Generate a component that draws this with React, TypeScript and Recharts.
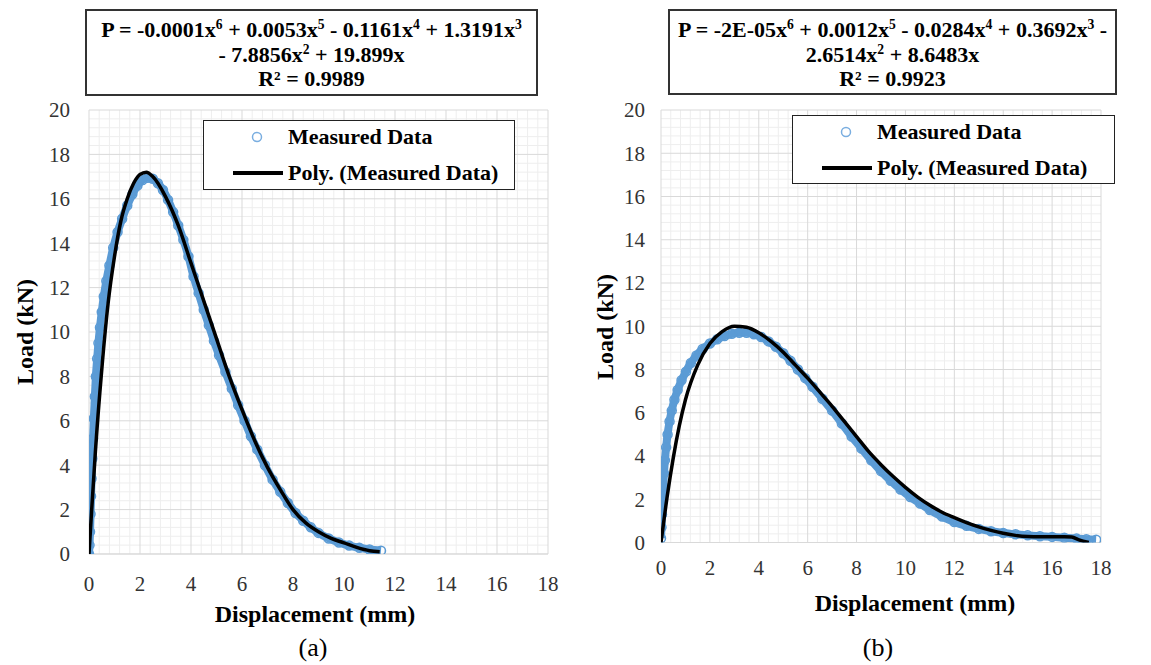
import React from 'react';
import { ScatterChart, Scatter, XAxis, YAxis, CartesianGrid } from 'recharts';

// ---------- data ----------
const xTicks = [0, 2, 4, 6, 8, 10, 12, 14, 16, 18];
const yTicks = [0, 2, 4, 6, 8, 10, 12, 14, 16, 18, 20];

// (a) measured
const measuredAX = [0, 0.02, 0.04, 0.06, 0.08, 0.1, 0.13, 0.16, 0.19, 0.23, 0.27, 0.32, 0.37, 0.43, 0.5, 0.58, 0.68, 0.8, 0.95, 1.12, 1.3, 1.5, 1.7, 1.9, 2.1, 2.3, 2.5, 2.7, 2.9, 3.1, 3.3, 3.5, 3.7, 3.9, 4.1, 4.3, 4.5, 4.7, 4.9, 5.1, 5.35, 5.6, 5.85, 6.1, 6.35, 6.6, 6.9, 7.2, 7.5, 7.8, 8.1, 8.4, 8.7, 9.0, 9.4, 9.8, 10.2, 10.6, 11.0, 11.45];
const measuredAY = [0, 0.4, 1.0, 1.8, 2.6, 3.4, 4.3, 5.2, 6.1, 7.1, 8.0, 8.8, 9.5, 10.2, 10.9, 11.6, 12.3, 13.0, 13.8, 14.5, 15.1, 15.7, 16.2, 16.6, 16.85, 16.95, 16.9, 16.7, 16.4, 15.95, 15.4, 14.8, 14.15, 13.4, 12.5, 11.75, 11.0, 10.3, 9.6, 8.95, 8.2, 7.45, 6.7, 6.0, 5.3, 4.7, 4.0, 3.35, 2.8, 2.3, 1.85, 1.5, 1.2, 0.95, 0.7, 0.52, 0.38, 0.28, 0.2, 0.15];
// (a) polynomial trendline
const polyAX = [0, 0.1, 0.25, 0.5, 0.75, 1.0, 1.25, 1.5, 1.75, 2.0, 2.25, 2.5, 3.0, 3.5, 4.0, 4.5, 5.0, 5.5, 6.0, 6.5, 7.0, 7.5, 8.0, 8.5, 9.0, 9.5, 10.0, 10.5, 11.0, 11.4];
const polyAY = [0, 1.9, 4.6, 8.3, 11.3, 13.4, 15.0, 16.0, 16.7, 17.1, 17.2, 17.0, 16.1, 14.8, 13.1, 11.4, 9.7, 8.0, 6.5, 5.1, 3.9, 2.9, 2.0, 1.4, 1.0, 0.7, 0.5, 0.3, 0.15, 0.1];

// (b) measured
const measuredBX = [0, 0.02, 0.04, 0.06, 0.09, 0.12, 0.16, 0.21, 0.27, 0.35, 0.44, 0.55, 0.68, 0.84, 1.02, 1.22, 1.45, 1.7, 2.0, 2.3, 2.6, 2.9, 3.2, 3.5, 3.8, 4.1, 4.4, 4.7, 5.0, 5.3, 5.6, 5.9, 6.2, 6.6, 7.0, 7.4, 7.8, 8.2, 8.6, 9.0, 9.4, 9.8, 10.2, 10.6, 11.0, 11.5, 12.0, 12.5, 13.0, 13.5, 14.0, 14.5, 15.0, 15.5, 16.0, 16.5, 17.0, 17.4, 17.8];
const measuredBY = [0.2, 0.7, 1.3, 1.9, 2.6, 3.2, 3.8, 4.4, 5.0, 5.6, 6.1, 6.6, 7.05, 7.5, 7.9, 8.3, 8.65, 8.95, 9.2, 9.4, 9.55, 9.65, 9.7, 9.7, 9.63, 9.5, 9.3, 9.05, 8.75, 8.4, 8.0, 7.6, 7.2, 6.65, 6.1, 5.5, 4.9, 4.35, 3.8, 3.3, 2.85, 2.45, 2.1, 1.8, 1.5, 1.2, 0.95, 0.77, 0.63, 0.52, 0.44, 0.38, 0.33, 0.29, 0.26, 0.22, 0.18, 0.15, 0.13];
// (b) polynomial trendline
const polyBX = [0, 0.25, 0.5, 0.75, 1.0, 1.5, 2.0, 2.5, 3.0, 3.5, 4.0, 4.5, 5.0, 5.5, 6.0, 6.5, 7.0, 7.5, 8.0, 8.5, 9.0, 9.5, 10.0, 10.5, 11.0, 11.5, 12.0, 12.5, 13.0, 13.5, 14.0, 14.5, 15.0, 15.5, 16.0, 16.5, 16.8, 17.1, 17.5];
const polyBY = [0, 2.1, 3.9, 5.4, 6.6, 8.2, 9.2, 9.75, 10.0, 9.95, 9.7, 9.3, 8.8, 8.2, 7.6, 6.95, 6.3, 5.6, 4.9, 4.2, 3.6, 3.05, 2.55, 2.1, 1.72, 1.4, 1.15, 0.92, 0.72, 0.56, 0.43, 0.33, 0.28, 0.27, 0.27, 0.27, 0.25, 0.12, 0.0];

const eqA = ['-0.0001', '0.0053', '0.1161', '1.3191', '7.8856', '19.899', '0.9989'];
const eqB = ['-2E-05', '0.0012', '0.0284', '0.3692', '2.6514', '8.6483', '0.9923'];

const seriesNames = ['Measured Data', 'Poly. (Measured Data)'];
const axisTitles = { x: 'Displacement (mm)', y: 'Load (kN)' };
const captions = ['(a)', '(b)'];

// ---------- helpers ----------
const zip = (xs: number[], ys: number[]) => xs.map((x, i) => ({ x, y: ys[i] }));
const minorX: number[] = [];
for (let i = 1; i < 45; i++) if (i % 5 !== 0) minorX.push(+(i * 0.4).toFixed(1));
const minorY: number[] = [];
for (let i = 1; i < 50; i++) if (i % 5 !== 0) minorY.push(+(i * 0.4).toFixed(1));

const FONT = "'Liberation Serif', Tinos, 'Times New Roman', 'DejaVu Serif', serif";
const BLUE = '#5B9BD5';

const Circle = (p: any) => (
  <circle cx={p.cx} cy={p.cy} r={4.5} fill="none" stroke={BLUE} strokeWidth={1.5} />
);
const Empty = () => <g />;

type PanelProps = {
  left: number;
  width: number;
  yAxisWidth: number;
  marginRight: number;
  marginBottom: number;
  yTickMargin: number;
  xTickMargin: number;
  measured: { x: number; y: number }[];
  poly: { x: number; y: number }[];
};

function Panel(p: PanelProps) {
  const tick = { fontSize: 21, fill: '#333', fontFamily: FONT };
  return (
    <div style={{ position: 'absolute', left: p.left, top: 0 }}>
      <ScatterChart
        width={p.width}
        height={620}
        margin={{ top: 110, right: p.marginRight, bottom: p.marginBottom, left: 0 }}
        style={{ fontFamily: FONT }}
      >
        <CartesianGrid stroke="#eeeeee" horizontalValues={minorY} verticalValues={minorX} />
        <CartesianGrid stroke="#d9d9d9" />
        <XAxis
          type="number"
          dataKey="x"
          domain={[0, 18]}
          ticks={xTicks}
          interval={0}
          tickLine={false}
          axisLine={{ stroke: '#d9d9d9' }}
          tick={tick}
          tickMargin={p.xTickMargin}
          height={30}
          allowDataOverflow
        />
        <YAxis
          type="number"
          dataKey="y"
          domain={[0, 20]}
          ticks={yTicks}
          interval={0}
          tickLine={false}
          axisLine={false}
          tick={tick}
          tickMargin={p.yTickMargin}
          width={p.yAxisWidth}
          allowDataOverflow
        />
        <Scatter
          name={seriesNames[0]}
          data={p.measured}
          shape={Circle}
          line={{ stroke: BLUE, strokeWidth: 8 }}
          lineJointType="monotoneX"
          isAnimationActive={false}
        />
        <Scatter
          name={seriesNames[1]}
          data={p.poly}
          shape={Empty}
          line={{ stroke: '#000', strokeWidth: 3.5 }}
          lineJointType="monotoneX"
          isAnimationActive={false}
        />
      </ScatterChart>
    </div>
  );
}

const T = (props: { cx: number; cy: number; size: number; bold?: boolean; rotate?: boolean; children: React.ReactNode }) => (
  <div
    style={{
      position: 'absolute',
      left: props.cx,
      top: props.cy,
      transform: `translate(-50%, -50%)${props.rotate ? ' rotate(-90deg)' : ''}`,
      fontFamily: FONT,
      fontSize: props.size,
      fontWeight: props.bold ? 'bold' : 'normal',
      whiteSpace: 'nowrap',
      lineHeight: 1,
      color: '#000',
    }}
  >
    {props.children}
  </div>
);

const Sup = ({ c }: { c: string }) => (
  <sup style={{ fontSize: '0.62em', verticalAlign: 'super', lineHeight: 0 }}>{c}</sup>
);

function EqBox({ left, top, w, h, lines }: { left: number; top: number; w: number; h: number; lines: React.ReactNode[] }) {
  const cx = left + w / 2;
  const ys = [top + 21, top + 46, top + 70];
  return (
    <>
      <div style={{ position: 'absolute', left, top, width: w, height: h, border: '2px solid #333', boxSizing: 'border-box', background: '#fff' }} />
      {lines.map((l, i) => (
        <T key={i} cx={cx} cy={ys[i]} size={22} bold>
          {l}
        </T>
      ))}
    </>
  );
}

function LegendBox({ left, top, w, h }: { left: number; top: number; w: number; h: number }) {
  const txt: React.CSSProperties = { position: 'absolute', left: 84, transform: 'translateY(-50%)', fontFamily: FONT, fontWeight: 'bold', fontSize: 22, lineHeight: 1, whiteSpace: 'nowrap' };
  return (
    <div style={{ position: 'absolute', left, top, width: w, height: h, border: '1.5px solid #222', boxSizing: 'border-box', background: '#fff' }}>
      <svg style={{ position: 'absolute', left: 0, top: 0 }} width={w} height={h}>
        <circle cx={53} cy={16} r={4.5} fill="none" stroke="#7aaee0" strokeWidth={1.5} />
        <line x1={29} x2={79} y1={52} y2={52} stroke="#000" strokeWidth={4} />
      </svg>
      <div style={{ ...txt, top: 16 }}>{seriesNames[0]}</div>
      <div style={{ ...txt, top: 52 }}>{seriesNames[1]}</div>
    </div>
  );
}

export default function App() {
  const linesA = [
    <span>P = {eqA[0]}x<Sup c="6" /> + {eqA[1]}x<Sup c="5" /> - {eqA[2]}x<Sup c="4" /> + {eqA[3]}x<Sup c="3" /></span>,
    <span>- {eqA[4]}x<Sup c="2" /> + {eqA[5]}x</span>,
    <span>R² = {eqA[6]}</span>,
  ];
  const linesB = [
    <span>P = {eqB[0]}x<Sup c="6" /> + {eqB[1]}x<Sup c="5" /> - {eqB[2]}x<Sup c="4" /> + {eqB[3]}x<Sup c="3" /> -</span>,
    <span>{eqB[4]}x<Sup c="2" /> + {eqB[5]}x</span>,
    <span>R² = {eqB[6]}</span>,
  ];
  return (
    <div style={{ position: 'absolute', left: 0, top: 0, width: 1151, height: 665, background: '#fff', overflow: 'hidden', fontFamily: FONT }}>
      <Panel left={0} width={570} yAxisWidth={89} marginRight={22} marginBottom={36} yTickMargin={13} xTickMargin={16} measured={zip(measuredAX, measuredAY)} poly={zip(polyAX, polyAY)} />
      <Panel left={570} width={581} yAxisWidth={91} marginRight={50} marginBottom={47.5} yTickMargin={10} xTickMargin={12} measured={zip(measuredBX, measuredBY)} poly={zip(polyBX, polyBY)} />

      <EqBox left={85} top={9} w={453} h={87} lines={linesA} />
      <EqBox left={668} top={9} w={449} h={86} lines={linesB} />

      <LegendBox left={203} top={120} w={312} h={70} />
      <LegendBox left={792} top={115} w={323} h={69} />

      <T cx={25} cy={332} size={24} bold rotate>{axisTitles.y}</T>
      <T cx={605} cy={327} size={24} bold rotate>{axisTitles.y}</T>
      <T cx={315} cy={614} size={24} bold>{axisTitles.x}</T>
      <T cx={915} cy={603} size={24} bold>{axisTitles.x}</T>
      <T cx={313} cy={648} size={26}>{captions[0]}</T>
      <T cx={878} cy={648} size={26}>{captions[1]}</T>
    </div>
  );
}
